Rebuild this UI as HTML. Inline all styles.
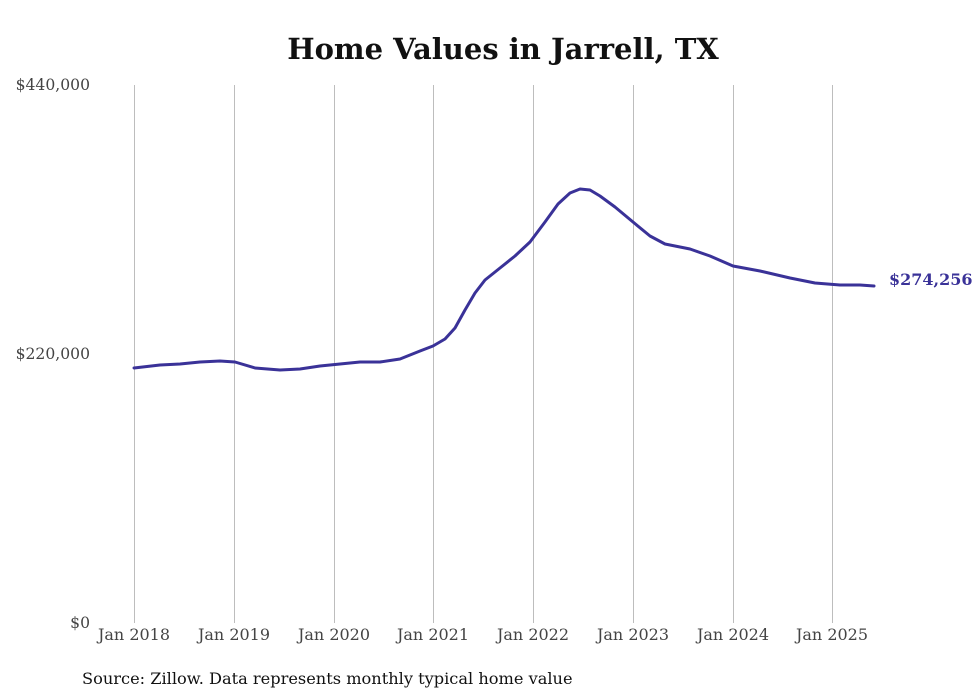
<!DOCTYPE html>
<html><head><meta charset="utf-8"><style>
html,body{margin:0;padding:0;background:#fff;}
svg{display:block;}
</style></head><body>
<svg width="980" height="699" xmlns="http://www.w3.org/2000/svg" font-family="DejaVu Serif, Liberation Serif, serif">
<rect width="980" height="699" fill="#fff"/>
<text x="503" y="59" text-anchor="middle" font-size="29" font-weight="bold" fill="#111">Home Values in Jarrell, TX</text>
<g stroke="#bdbdbd" stroke-width="1">
<line x1="134.5" y1="85" x2="134.5" y2="623"/>
<line x1="234.5" y1="85" x2="234.5" y2="623"/>
<line x1="334.5" y1="85" x2="334.5" y2="623"/>
<line x1="433.5" y1="85" x2="433.5" y2="623"/>
<line x1="533.5" y1="85" x2="533.5" y2="623"/>
<line x1="633.5" y1="85" x2="633.5" y2="623"/>
<line x1="733.5" y1="85" x2="733.5" y2="623"/>
<line x1="832.5" y1="85" x2="832.5" y2="623"/>
</g>
<g font-size="15.6" fill="#444">
<text x="90" y="90" text-anchor="end">$440,000</text>
<text x="90" y="359" text-anchor="end">$220,000</text>
<text x="90" y="628" text-anchor="end">$0</text>
</g>
<g font-size="16" fill="#444" text-anchor="middle">
<text x="134" y="640">Jan 2018</text>
<text x="234" y="640">Jan 2019</text>
<text x="334" y="640">Jan 2020</text>
<text x="433" y="640">Jan 2021</text>
<text x="533" y="640">Jan 2022</text>
<text x="633" y="640">Jan 2023</text>
<text x="733" y="640">Jan 2024</text>
<text x="832" y="640">Jan 2025</text>
</g>
<polyline fill="none" stroke="#3a3298" stroke-width="3" stroke-linejoin="round" stroke-linecap="round"
points="134,368 160,365 180,364 200,362 220,361 235,362 255,368 280,370 300,369 320,366 340,364 360,362 380,362 400,359 420,351 433,346 445,339 455,328 465,310 475,293 485,280 500,268 515,256 530,242 545,222 558,204 570,193 580,189 590,190 600,196 615,207 633,222 650,236 665,244 690,249 710,256 733,266 760,271 790,278 815,283 840,285 860,285 874,286"/>
<text x="889" y="285" font-size="16" font-weight="bold" fill="#3a3298">$274,256</text>
<text x="82" y="684" font-size="16.2" fill="#111">Source: Zillow. Data represents monthly typical home value</text>
</svg>
</body></html>
